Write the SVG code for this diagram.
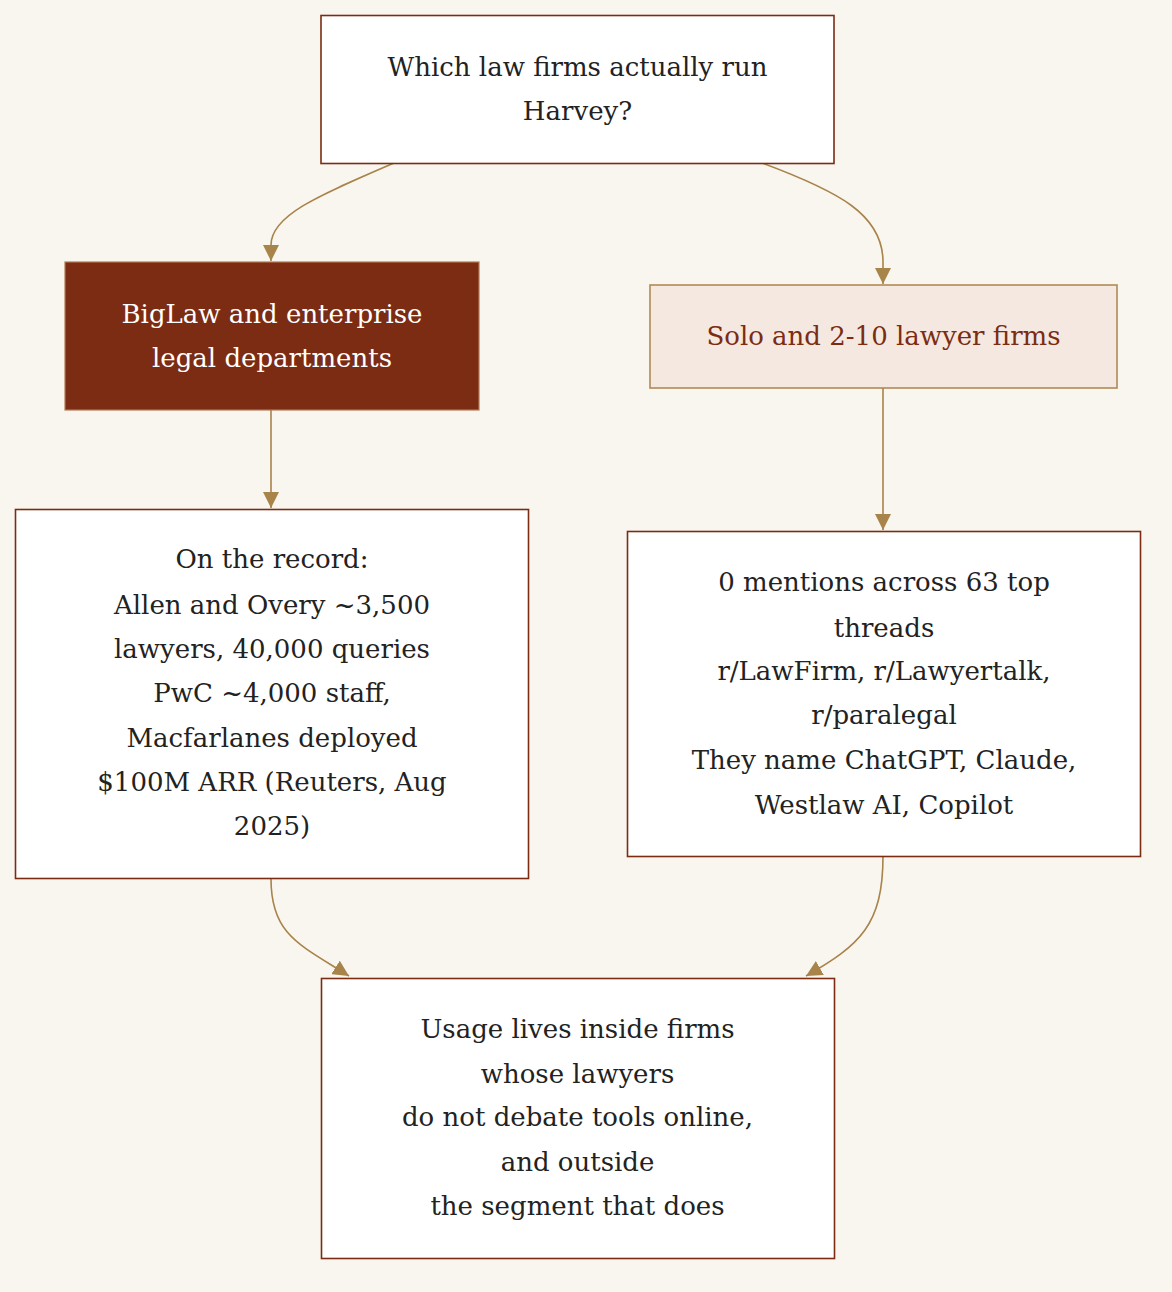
<svg xmlns="http://www.w3.org/2000/svg" width="1172" height="1292" viewBox="0 0 1172 1292">
<style>
.t{font-family:"DejaVu Serif","Liberation Serif",serif;font-size:26px;fill:#222222;text-anchor:middle;dominant-baseline:central}
.w{fill:#ffffff}
.r{fill:#7b2c12}
.box{fill:#ffffff;stroke:#7b2c12;stroke-width:1.6}
.edge{fill:none;stroke:#a8834a;stroke-width:1.6}
</style>
<defs>
<marker id="a" viewBox="0 0 12 12" refX="12" refY="6" markerWidth="16" markerHeight="16" markerUnits="userSpaceOnUse" orient="auto">
<path d="M0,0 L12,6 L0,12 z" fill="#a8834a"/>
</marker>
</defs>
<rect width="1172" height="1292" fill="#f9f6ef"/>
<g id="connectors">
<path class="edge" d="M394,163 C320,195 271,215 271,245 L271,261" marker-end="url(#a)"/>
<path class="edge" d="M762,163 C840,192 883,215 883,262 L883,284" marker-end="url(#a)"/>
<path class="edge" d="M271,410 L271,508" marker-end="url(#a)"/>
<path class="edge" d="M883,388 L883,530" marker-end="url(#a)"/>
<path class="edge" d="M271,879 C271,935 300,945 349,976" marker-end="url(#a)"/>
<path class="edge" d="M883,856 C883,925 860,945 806,976" marker-end="url(#a)"/>
</g>
<g id="q">
<rect class="box" x="321" y="15.5" width="513" height="148"/>
<text class="t" x="577.5" y="67">Which law firms actually run</text>
<text class="t" x="577.5" y="111">Harvey?</text>
</g>
<g id="biglaw">
<rect x="65" y="262" width="414" height="148" fill="#7b2c12" stroke="#b07a55" stroke-width="1.2"/>
<text class="t w" x="272" y="314">BigLaw and enterprise</text>
<text class="t w" x="272" y="358">legal departments</text>
</g>
<g id="solo">
<rect x="650" y="285" width="467" height="103" fill="#f5e8e0" stroke="#b08a55" stroke-width="1.6"/>
<text class="t r" x="883.5" y="336">Solo and 2-10 lawyer firms</text>
</g>
<g id="record">
<rect class="box" x="15.5" y="509.5" width="513" height="369"/>
<text class="t" x="272" y="559">On the record:</text>
<text class="t" x="272" y="605">Allen and Overy ~3,500</text>
<text class="t" x="272" y="649">lawyers, 40,000 queries</text>
<text class="t" x="272" y="693">PwC ~4,000 staff,</text>
<text class="t" x="272" y="738">Macfarlanes deployed</text>
<text class="t" x="272" y="782">$100M ARR (Reuters, Aug</text>
<text class="t" x="272" y="826">2025)</text>
</g>
<g id="mentions">
<rect class="box" x="627.5" y="531.5" width="513" height="325"/>
<text class="t" x="884" y="582">0 mentions across 63 top</text>
<text class="t" x="884" y="628">threads</text>
<text class="t" x="884" y="671">r/LawFirm, r/Lawyertalk,</text>
<text class="t" x="884" y="715">r/paralegal</text>
<text class="t" x="884" y="760">They name ChatGPT, Claude,</text>
<text class="t" x="884" y="805">Westlaw AI, Copilot</text>
</g>
<g id="usage">
<rect class="box" x="321.5" y="978.5" width="513" height="280"/>
<text class="t" x="577.5" y="1029">Usage lives inside firms</text>
<text class="t" x="577.5" y="1074">whose lawyers</text>
<text class="t" x="577.5" y="1117">do not debate tools online,</text>
<text class="t" x="577.5" y="1162">and outside</text>
<text class="t" x="577.5" y="1206">the segment that does</text>
</g>
</svg>
